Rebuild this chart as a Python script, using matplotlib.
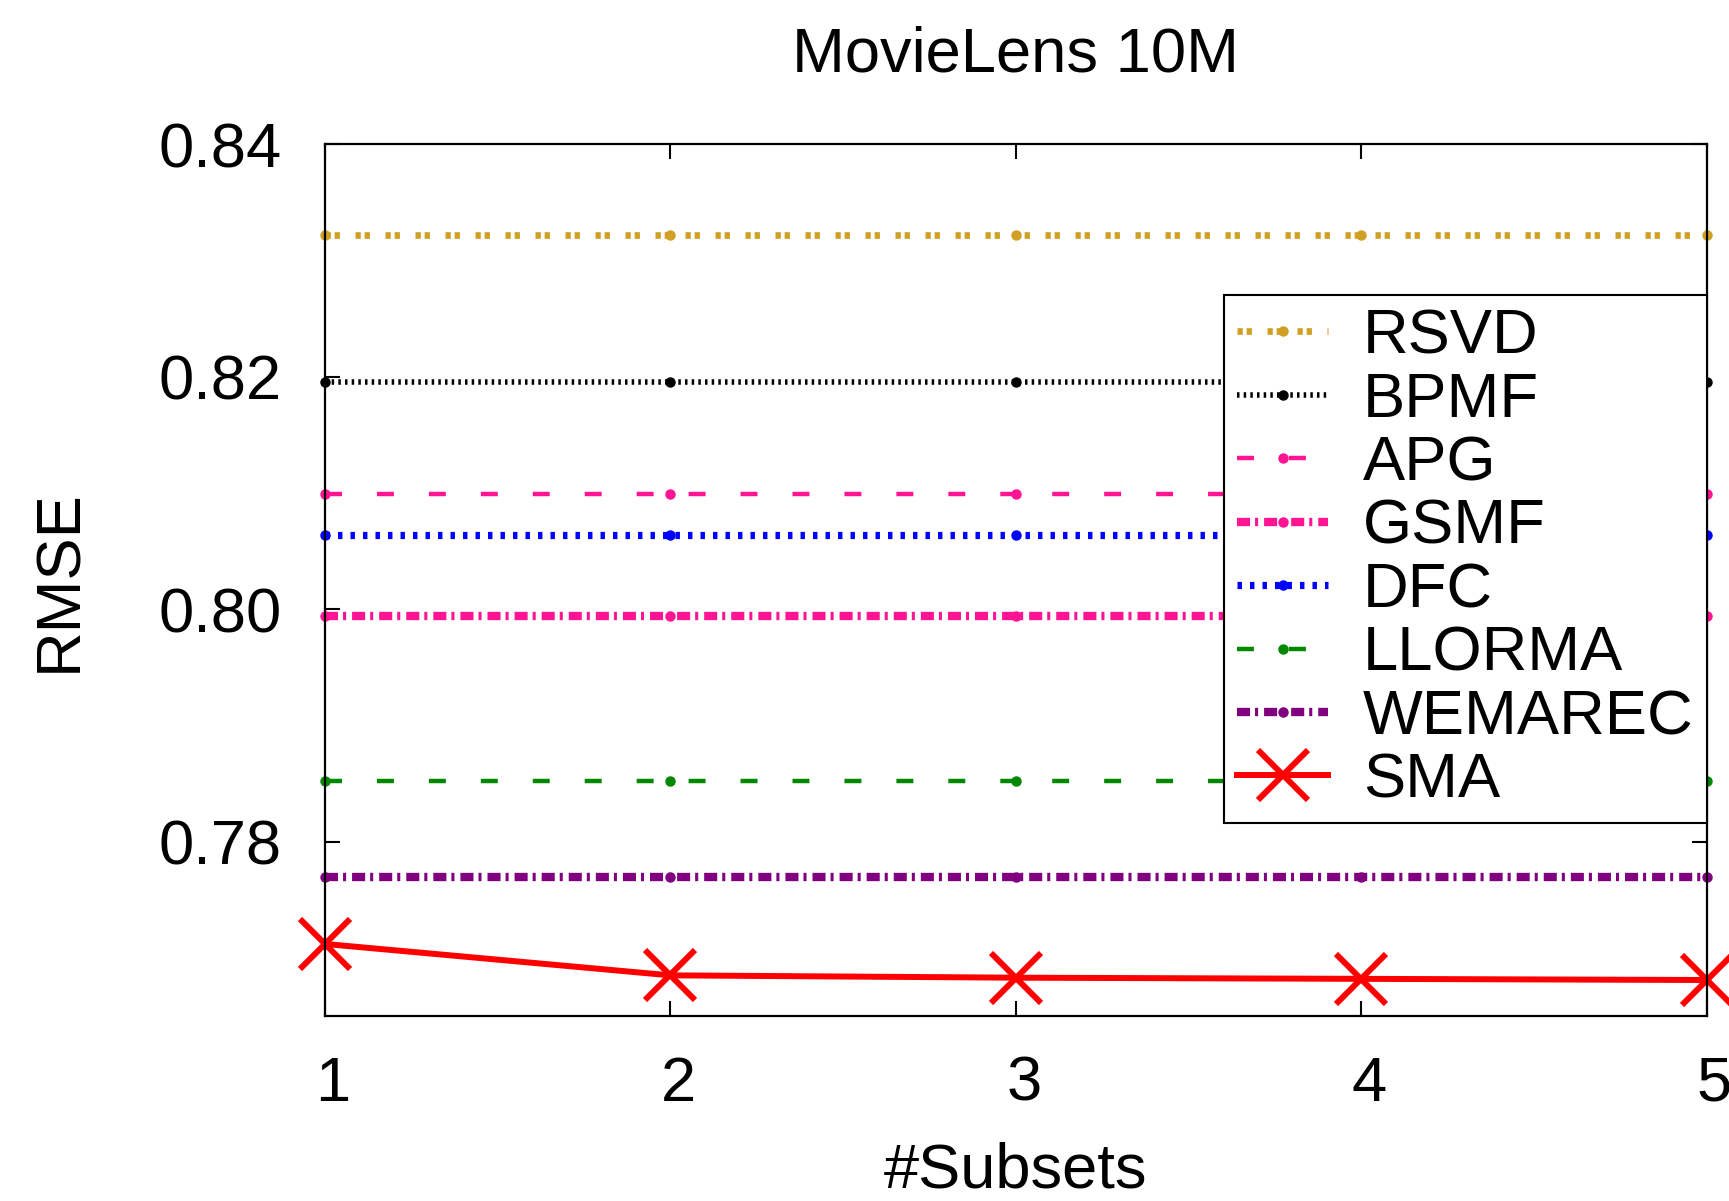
import matplotlib
matplotlib.use("Agg")
from matplotlib import pyplot as plt
from matplotlib.transforms import ScaledTranslation

subsets = [1, 2, 3, 4, 5]

rsvd = [0.8322] * 5
bpmf = [0.8195] * 5
apg = [0.8099] * 5
gsmf = [0.7994] * 5
dfc = [0.8064] * 5
llorma = [0.7852] * 5
wemarec = [0.7770] * 5
sma = [0.7712, 0.7685, 0.7683, 0.7682, 0.7681]

y_ticks = [0.78, 0.80, 0.82, 0.84]

plt.rcParams["font.family"] = ["Liberation Sans", "DejaVu Sans"]
plt.rcParams["lines.scale_dashes"] = False

FS = 45.5


def plot_graph():
    fig = plt.figure(figsize=(17.29, 12.01), dpi=100)
    ax = fig.add_axes([0.188, 0.154, 0.799, 0.726])

    base = dict(marker="o", markersize=6.5, clip_on=False)
    ax.plot(subsets, rsvd, color="#CFA024", lw=4.8, dashes=(3.8, 2.8, 3.8, 11.2), label="RSVD", **base)
    ax.plot(subsets, bpmf, color="black", lw=4, dashes=(1.8, 3.0), label="BPMF", **base)
    ax.plot(subsets, apg, color="#FF1493", lw=3.2, dashes=(12.2, 25.2), label="APG", **base)
    ax.plot(subsets, gsmf, color="#FF1493", lw=6, dashes=(9.4, 3.6, 2.2, 4.3), label="GSMF", **base)
    ax.plot(subsets, dfc, color="#0000FF", lw=5.2, dashes=(3.2, 5.8), label="DFC", **base)
    ax.plot(subsets, llorma, color="#008800", lw=3.2, dashes=(12.2, 25.2), label="LLORMA", **base)
    ax.plot(subsets, wemarec, color="#800080", lw=6, dashes=(9.4, 3.6, 2.2, 4.3), label="WEMAREC", **base)
    ax.plot(subsets, sma, color="red", lw=4.3, marker="x", markersize=36, markeredgewidth=4.3,
            clip_on=False, label="SMA")

    ax.set_xlim(1, 5)
    ax.set_ylim(0.765, 0.84)
    ax.set_xticks(subsets)
    ax.set_yticks(y_ticks)
    ax.set_yticklabels([f"{v:.2f}" for v in y_ticks])
    ax.tick_params(direction="in", length=11, width=1.5, labelsize=FS, top=True, right=True)
    ax.tick_params(axis="x", pad=28)
    ax.tick_params(axis="y", pad=31)
    for lbl in ax.get_xticklabels():
        lbl.set_transform(lbl.get_transform() + ScaledTranslation(0.08, 0, fig.dpi_scale_trans))
    for s in ax.spines.values():
        s.set_linewidth(1.6)

    ax.set_title("MovieLens 10M", fontsize=FS, pad=52)
    ax.set_xlabel("#Subsets", fontsize=FS, labelpad=20)
    ax.set_ylabel("RMSE", fontsize=FS, labelpad=50)

    leg = ax.legend(loc="upper right", bbox_to_anchor=(1.0, 0.827), borderaxespad=0,
                    fontsize=FS, handlelength=1.45, handletextpad=0.55, labelspacing=0.07,
                    borderpad=0.2, fancybox=False, framealpha=1)
    leg.get_frame().set_edgecolor("black")
    leg.get_frame().set_linewidth(1.5)

    fig.savefig("out.png", dpi=100)


if __name__ == "__main__":
    plot_graph()
